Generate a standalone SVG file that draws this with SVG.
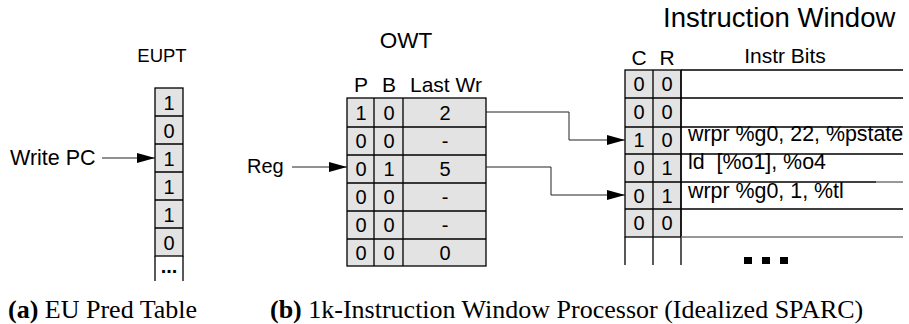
<svg xmlns="http://www.w3.org/2000/svg" width="909" height="324" viewBox="0 0 909 324">
<defs>
<marker id="ah" viewBox="0 0 18 10" refX="18" refY="5" markerWidth="18" markerHeight="10" markerUnits="userSpaceOnUse" orient="auto">
<path d="M0,0 L18,5 L0,10 z" fill="#000"/>
</marker>
</defs>
<style>
.t{font-family:"Liberation Sans",Arial,sans-serif;fill:#000}
.d{font-family:"Liberation Sans",Arial,sans-serif;font-size:20px;fill:#000;text-anchor:middle}
.h{font-family:"Liberation Sans",Arial,sans-serif;font-size:21px;fill:#000;text-anchor:middle}
.cell{fill:#e3e3e3;stroke:#000;stroke-width:1.3}
.ln{stroke:#000;stroke-width:1.3;fill:none}
.gl{stroke:#777;stroke-width:1.3;fill:none}
.cap{font-family:"Liberation Serif","Times New Roman",serif;font-size:26px;fill:#000}
.con{stroke:#222;stroke-width:1;fill:none;marker-end:url(#ah)}
</style>
<rect width="909" height="324" fill="#fff"/>

<g id="eupt">
<text class="t" x="162" y="62" font-size="18.5" text-anchor="middle">EUPT</text>
<rect class="cell" x="155" y="88" width="28" height="168"/>
<path class="ln" d="M155,116H183M155,144H183M155,172H183M155,200H183M155,228H183M155,256V281M183,256V281"/>
<text class="d" x="169" y="110">1</text>
<text class="d" x="169" y="138">0</text>
<text class="d" x="169" y="166">1</text>
<text class="d" x="169" y="194">1</text>
<text class="d" x="169" y="222">1</text>
<text class="d" x="169" y="250">0</text>
<text class="d" x="169" y="273" font-weight="bold">...</text>
</g>

<g id="write-pc">
<text class="t" x="10" y="165" font-size="21.5">Write PC</text>
</g>

<g id="owt">
<text class="t" x="406" y="48" font-size="22.5" text-anchor="middle">OWT</text>
<text class="h" x="361" y="92">P</text>
<text class="h" x="389" y="92">B</text>
<text class="h" x="446" y="92">Last Wr</text>
<rect class="cell" x="347" y="98" width="139" height="168"/>
<path class="ln" d="M374,98V266M403,98V266M347,127H486M347,155H486M347,183H486M347,211H486M347,239H486"/>
<text class="d" x="361" y="120">1</text><text class="d" x="389" y="120">0</text><text class="d" x="445" y="120">2</text>
<text class="d" x="361" y="148">0</text><text class="d" x="389" y="148">0</text><text class="d" x="445" y="148">-</text>
<text class="d" x="361" y="176">0</text><text class="d" x="389" y="176">1</text><text class="d" x="445" y="176">5</text>
<text class="d" x="361" y="204">0</text><text class="d" x="389" y="204">0</text><text class="d" x="445" y="204">-</text>
<text class="d" x="361" y="232">0</text><text class="d" x="389" y="232">0</text><text class="d" x="445" y="232">-</text>
<text class="d" x="361" y="260">0</text><text class="d" x="389" y="260">0</text><text class="d" x="445" y="260">0</text>
</g>

<g id="reg">
<text class="t" x="247" y="173" font-size="20">Reg</text>
</g>

<g id="instruction-window">
<text class="t" x="663" y="27" font-size="27.5">Instruction Window</text>
<text class="h" x="639" y="65">C</text>
<text class="h" x="667" y="65">R</text>
<text class="h" x="785" y="63">Instr Bits</text>
<rect class="cell" x="625" y="70" width="56" height="167"/>
<path class="ln" d="M653,70V265M625,237V265M681,70V265M681,70H903M625,98H903M625,127H903M625,154H903M625,209H903M625,182H681"/>
<path class="ln" d="M681,182H876" stroke-width="2"/>
<path class="gl" d="M876,182H903M681,237H903"/>
<text class="d" x="639" y="91">0</text><text class="d" x="667" y="91">0</text>
<text class="d" x="639" y="119">0</text><text class="d" x="667" y="119">0</text>
<text class="d" x="639" y="147">1</text><text class="d" x="667" y="147">0</text>
<text class="d" x="639" y="175">0</text><text class="d" x="667" y="175">1</text>
<text class="d" x="639" y="203">0</text><text class="d" x="667" y="203">1</text>
<text class="d" x="639" y="230">0</text><text class="d" x="667" y="230">0</text>
<text class="t" x="688" y="141" font-size="21.4">wrpr %g0, 22, %pstate</text>
<text class="t" x="688" y="169" font-size="21.4" xml:space="preserve">ld  [%o1], %o4</text>
<text class="t" x="688" y="198" font-size="21.4">wrpr %g0, 1, %tl</text>
<g fill="#000">
<rect x="744" y="257" width="8" height="7"/>
<rect x="762" y="257" width="8" height="7"/>
<rect x="780" y="257" width="8" height="7"/>
</g>
</g>

<g id="connectors">
<path class="con" d="M102,158H155"/>
<path class="con" d="M292,167H347"/>
<path class="con" d="M486,112H569V140H625"/>
<path class="con" d="M486,167H551V195H625"/>
</g>

<g id="captions">
<text class="cap" x="8" y="318"><tspan font-weight="bold">(a)</tspan> EU Pred Table</text>
<text class="cap" x="270" y="318"><tspan font-weight="bold">(b)</tspan> 1k-Instruction Window Processor (Idealized SPARC)</text>
</g>
</svg>
